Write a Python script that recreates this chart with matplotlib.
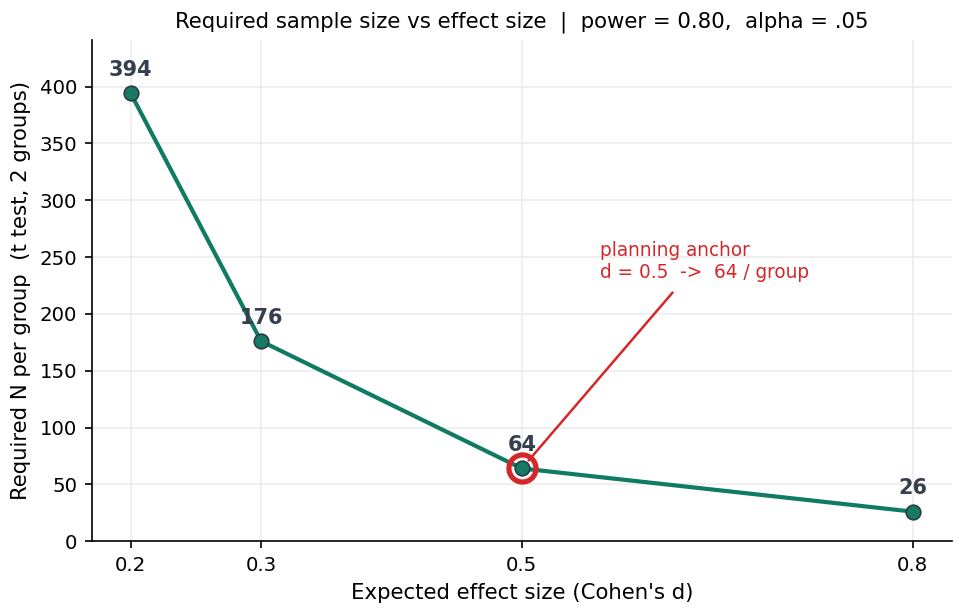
import matplotlib
matplotlib.use("Agg")
import matplotlib.pyplot as plt

effect_sizes = [0.2, 0.3, 0.5, 0.8]
n_per_group = [394, 176, 64, 26]
tick_labels = ["0.2", "0.3", "0.5", "0.8"]
anchor_d, anchor_n = 0.5, 64

fig, ax = plt.subplots(figsize=(6.43, 4.1), dpi=150)

ax.plot(effect_sizes, n_per_group, color="#0e7b62", lw=2, marker="o", ms=7,
        mfc="#177a63", mec="#2b3a48", mew=0.8, zorder=3)
for x, y in zip(effect_sizes, n_per_group):
    ax.annotate(str(y), (x, y), xytext=(0, 6.5), textcoords="offset points",
                ha="center", va="bottom", fontsize=10, fontweight="bold", color="#353f4e")

ax.plot([anchor_d], [anchor_n], marker="o", ms=13, mfc="none", mec="#d62728", mew=2.5, zorder=4)
ax.annotate("planning anchor\nd = 0.5  ->  64 / group", xy=(anchor_d, anchor_n),
            xytext=(0.56, 228), textcoords="data", fontsize=8.9, color="#d62728",
            ha="left", va="bottom",
            arrowprops=dict(arrowstyle="-", color="#d62728", lw=1.2, shrinkA=4, shrinkB=5,
                            relpos=(0.39, 0)))

ax.set_xticks(effect_sizes)
ax.set_xticklabels(tick_labels)
ax.set_ylim(0, 441)
ax.set_xlabel("Expected effect size (Cohen's d)", fontsize=10.2)
ax.set_ylabel("Required N per group  (t test, 2 groups)", fontsize=10.2)
ax.set_title("Required sample size vs effect size  |  power = 0.80,  alpha = .05", fontsize=10.2)
ax.grid(True, color="#ececec", lw=0.8)
ax.set_axisbelow(True)
ax.spines["top"].set_visible(False)
ax.spines["right"].set_visible(False)
ax.tick_params(labelsize=9.5)

fig.subplots_adjust(left=0.095, right=0.987, top=0.935, bottom=0.12)
fig.savefig("out.png", dpi=150)
